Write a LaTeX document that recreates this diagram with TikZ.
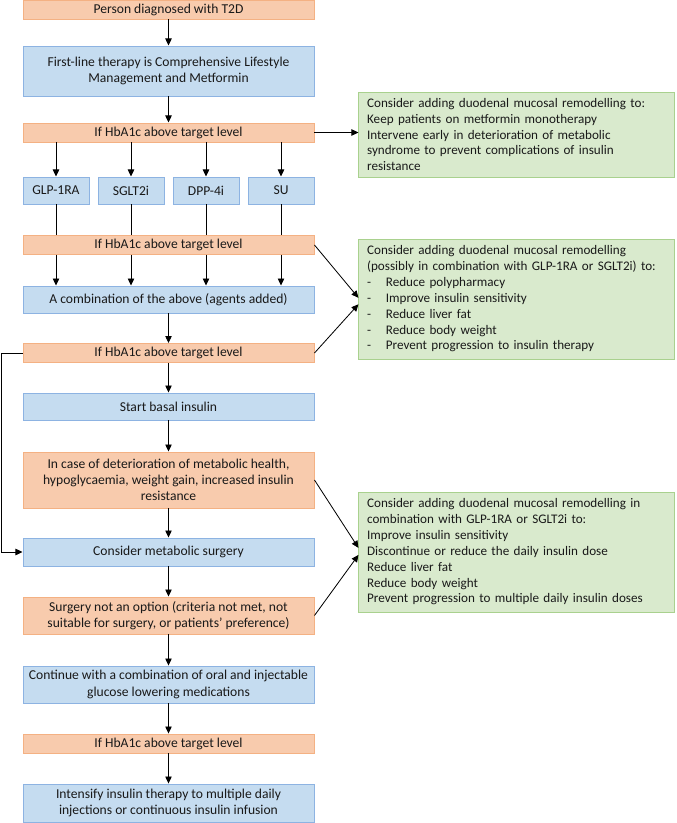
\documentclass[tikz,border=0pt]{standalone}
\usepackage{fontspec}
\setmainfont{Carlito}
\usetikzlibrary{arrows.meta}
\definecolor{orfill}{HTML}{F8CBAD}
\definecolor{ordraw}{HTML}{F4B183}
\definecolor{blfill}{HTML}{C5DCF0}
\definecolor{bldraw}{HTML}{8DB3E2}
\definecolor{grfill}{HTML}{D9EACD}
\definecolor{grdraw}{HTML}{A9D18E}
\tikzset{
  box/.style={line width=0.8pt, inner sep=1pt, align=center, minimum width=8.73cm, text=black!90},
  orangebox/.style={box, draw=ordraw, fill=orfill},
  bluebox/.style={box, draw=bldraw, fill=blfill},
  drugbox/.style={bluebox, minimum width=1.98cm, minimum height=0.81cm},
  notebox/.style={draw=grdraw, fill=grfill, line width=0.8pt, inner xsep=7pt, text width=255pt, align=left, text=black!90,
    font=\fontsize{11.2}{13.5}\selectfont},
  arr/.style={-{Triangle[length=6pt,width=5.5pt]}, line width=0.7pt},
  link/.style={line width=0.7pt}
}
\newcommand{\dashitem}[1]{\makebox[16pt][l]{-}#1}
\begin{document}
\begin{tikzpicture}[x=0.03cm, y=-0.03cm, font=\fontsize{11.6}{13.8}\selectfont]
  \useasboundingbox (0,0) rectangle (676,823);
  %% Main column
  \node[orangebox, minimum height=0.57cm] (diag) at (168.5,9.5) {Person diagnosed with T2D};
  \node[bluebox, minimum height=1.5cm] (first) at (168.5,71) {First-line therapy is Comprehensive Lifestyle\\Management and Metformin};
  \node[orangebox, minimum height=0.57cm] (hbaA) at (168.5,132.5) {If HbA1c above target level};
  %% Drug classes
  \node[drugbox] (glp) at (56,190.5) {GLP-1RA};
  \node[drugbox] (sglt) at (131,190.5) {SGLT2i};
  \node[drugbox] (dpp) at (206,190.5) {DPP-4i};
  \node[drugbox] (su) at (281,190.5) {SU};
  \node[orangebox, minimum height=0.55cm] (hbaB) at (168.5,245) {If HbA1c above target level};
  \node[bluebox, minimum height=0.81cm] (combo) at (168.5,299.5) {A combination of the above (agents added)};
  \node[orangebox, minimum height=0.57cm] (hbaC) at (168.5,353) {If HbA1c above target level};
  \node[bluebox, minimum height=0.81cm] (basal) at (168.5,406.5) {Start basal insulin};
  \node[orangebox, minimum height=1.68cm] (deter) at (168.5,480) {In case of deterioration of metabolic health,\\hypoglycaemia, weight gain, increased insulin\\resistance};
  \node[bluebox, minimum height=0.84cm] (surgery) at (168.5,552) {Consider metabolic surgery};
  \node[orangebox, minimum height=1.11cm] (noopt) at (168.5,615.5) {Surgery not an option (criteria not met, not\\suitable for surgery, or patients’ preference)};
  \node[bluebox, minimum height=1.11cm] (contin) at (168.5,684.5) {Continue with a combination of oral and injectable\\glucose lowering medications};
  \node[orangebox, minimum height=0.57cm] (hbaD) at (168.5,743.5) {If HbA1c above target level};
  \node[bluebox, minimum height=1.14cm] (intens) at (168.5,803) {Intensify insulin therapy to multiple daily\\injections or continuous insulin infusion};
  %% Notes
  \node[notebox, minimum height=2.55cm] (noteA) at (516.5,134.5) {Consider adding duodenal mucosal remodelling to:\\
    Keep patients on metformin monotherapy\\
    Intervene early in deterioration of metabolic\\
    syndrome to prevent complications of insulin\\
    resistance};
  \node[notebox, minimum height=3.6cm] (noteB) at (516.5,299) {Consider adding duodenal mucosal remodelling\\
    (possibly in combination with GLP-1RA or SGLT2i) to:\\
    \dashitem{Reduce polypharmacy}\\
    \dashitem{Improve insulin sensitivity}\\
    \dashitem{Reduce liver fat}\\
    \dashitem{Reduce body weight}\\
    \dashitem{Prevent progression to insulin therapy}};
  \node[notebox, minimum height=3.6cm] (noteC) at (516.5,552) {Consider adding duodenal mucosal remodelling in\\
    combination with GLP-1RA or SGLT2i to:\\
    Improve insulin sensitivity\\
    Discontinue or reduce the daily insulin dose\\
    Reduce liver fat\\
    Reduce body weight\\
    Prevent progression to multiple daily insulin doses};
  %% Flow arrows
  \draw[arr] (diag) -- (first);
  \draw[arr] (first) -- (hbaA);
  \foreach \d in {glp,sglt,dpp,su} {
    \draw[arr] (hbaA.south -| \d.north) -- (\d.north);
    \draw[link] (\d.south) -- (\d.south |- hbaB.north);
    \draw[arr] (\d.south |- hbaB.south) -- (\d.south |- combo.north);
  }
  \draw[arr] (combo) -- (hbaC);
  \draw[arr] (hbaC) -- (basal);
  \draw[arr] (basal) -- (deter);
  \draw[arr] (deter) -- (surgery);
  \draw[arr] (surgery) -- (noopt);
  \draw[arr] (noopt) -- (contin);
  \draw[arr] (contin) -- (hbaD);
  \draw[arr] (hbaD) -- (intens);
  \draw[arr] (hbaC.west) -- ++(-21,0) |- (surgery.west);
  %% Arrows to notes
  \draw[arr] (hbaA.east) -- (hbaA.east -| noteA.west);
  \draw[arr] (hbaB.east) -- ([yshift=1pt]noteB.west);
  \draw[arr] (hbaC.east) -- ([yshift=-4.5pt]noteB.west);
  \draw[arr] (deter.east) -- ([yshift=3.5pt]noteC.west);
  \draw[arr] (noopt.east) -- ([yshift=-2.5pt]noteC.west);
\end{tikzpicture}
\end{document}
